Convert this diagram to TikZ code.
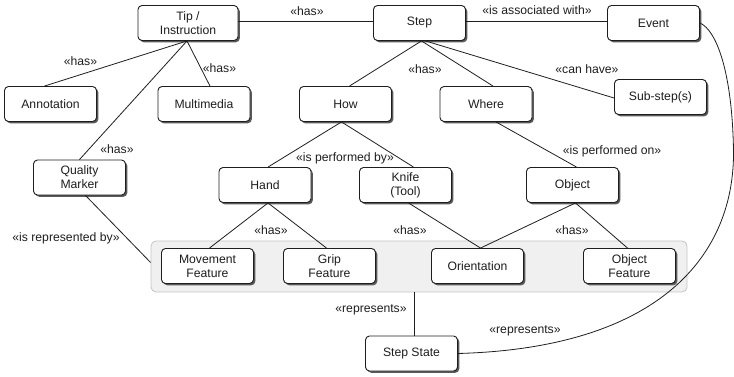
\documentclass[tikz,border=0pt]{standalone}
\usepackage{fontspec}
\setmainfont{Liberation Sans}
\usetikzlibrary{shadows}
\definecolor{ink}{HTML}{1E1E1E}
\definecolor{groupfill}{HTML}{F0F0F0}
\definecolor{groupline}{HTML}{C4C4C4}
\begin{document}
\begin{tikzpicture}[x=1pt,y=-1pt,
  txt/.style={font=\fontsize{12.2}{14}\selectfont, text=ink},
  box/.style={txt, draw=ink, rounded corners=4pt, fill=white, line width=0.9pt,
    minimum width=92pt, minimum height=35pt, align=center, inner sep=2pt,
    drop shadow={shadow xshift=1.8pt, shadow yshift=-1.8pt, fill=black!65, opacity=1}},
  rel/.style={draw=ink, line width=0.8pt},
  lbl/.style={txt, inner sep=0pt},
  groupbox/.style={draw=groupline, fill=groupfill, rounded corners=5pt, line width=0.8pt,
    minimum width=536pt, minimum height=51pt, inner sep=0pt}
]
\useasboundingbox (0,0) rectangle (734,377);

% feature group
\node[groupbox] (grp) at (419,266.5) {};

% classes
\node[box, minimum width=100pt] (tip) at (188,23) {Tip /\\Instruction};
\node[box] (step)  at (419.5,23) {Step};
\node[box] (event) at (653.5,23) {Event};
\node[box] (ann)   at (50.5,104) {Annotation};
\node[box] (mm)    at (204,104) {Multimedia};
\node[box] (how)   at (345.5,104) {How};
\node[box] (where) at (486,104) {Where};
\node[box] (sub)   at (660.5,97) {Sub-step(s)};
\node[box] (qm)    at (79.5,177.5) {Quality\\Marker};
\node[box] (hand)  at (265,185) {Hand};
\node[box] (knife) at (405.5,185) {Knife\\(Tool)};
\node[box] (obj)   at (572.5,185) {Object};
\node[box] (mov)   at (207.5,266) {Movement\\Feature};
\node[box] (grip)  at (329.5,266) {Grip\\Feature};
\node[box] (ori)   at (477.5,266) {Orientation};
\node[box] (objf)  at (629.5,266) {Object\\Feature};
\node[box] (ss)    at (411.5,353.5) {Step State};

% associations
\draw[rel] ([yshift=1.5pt]tip.east) -- ([yshift=1.5pt]step.west);
\draw[rel] ([yshift=1.5pt]step.east) -- ([yshift=1.5pt]event.west);
\draw[rel] ([xshift=-1pt]tip.south) -- ([xshift=-6pt]ann.north);
\draw[rel] ([xshift=-1pt]tip.south) -- ([xshift=6pt]mm.north);
\draw[rel] ([xshift=-1pt]tip.south) -- ([xshift=0pt]qm.north);
\draw[rel] ([xshift=2pt]step.south) -- ([xshift=4pt]how.north);
\draw[rel] ([xshift=2pt]step.south) -- ([xshift=7pt]where.north);
\draw[rel] ([xshift=6pt]step.south) -- ([yshift=-1pt]sub.west);
\draw[rel] ([xshift=-4pt]how.south) -- ([xshift=3pt]hand.north);
\draw[rel] ([xshift=-4pt]how.south) -- ([xshift=8pt]knife.north);
\draw[rel] ([xshift=10pt]where.south) -- ([xshift=4pt]obj.north);
\draw[rel] ([xshift=6pt]qm.south) -- ([yshift=4pt]grp.west);
\draw[rel] ([xshift=3pt]hand.south) -- ([xshift=2pt]mov.north);
\draw[rel] ([xshift=3pt]hand.south) -- ([xshift=-3pt]grip.north);
\draw[rel] ([xshift=3pt]knife.south) -- ([xshift=3pt]ori.north);
\draw[rel] ([xshift=3pt]obj.south) -- ([xshift=3pt]ori.north);
\draw[rel] ([xshift=3pt]obj.south) -- ([xshift=-2pt]objf.north);
\draw[rel] ([xshift=3pt]ss.north) -- ([xshift=3pt]ss.north |- grp.south);
\draw[rel] (ss.east) .. controls (660,348) and (735,255) .. (733.5,150)
                     .. controls (732,70) and (716,30) .. (event.east);

% association labels
\node[lbl] (l1)  at (307,11)    {«has»};
\node[lbl] (l2)  at (537,10)    {«is associated with»};
\node[lbl] (l3)  at (80.5,61)   {«has»};
\node[lbl] (l4)  at (219.5,68)  {«has»};
\node[lbl] (l5)  at (117,149)   {«has»};
\node[lbl] (l6)  at (425,69)    {«has»};
\node[lbl] (l7)  at (587,69)    {«can have»};
\node[lbl] (l8)  at (345,158)   {«is performed by»};
\node[lbl] (l9)  at (612,151)   {«is performed on»};
\node[lbl] (l10) at (66,238)    {«is represented by»};
\node[lbl] (l11) at (271,230)   {«has»};
\node[lbl] (l12) at (410,230)   {«has»};
\node[lbl] (l13) at (572,230)   {«has»};
\node[lbl] (l14) at (371,310)   {«represents»};
\node[lbl] (l15) at (525,331)   {«represents»};
\end{tikzpicture}
\end{document}
